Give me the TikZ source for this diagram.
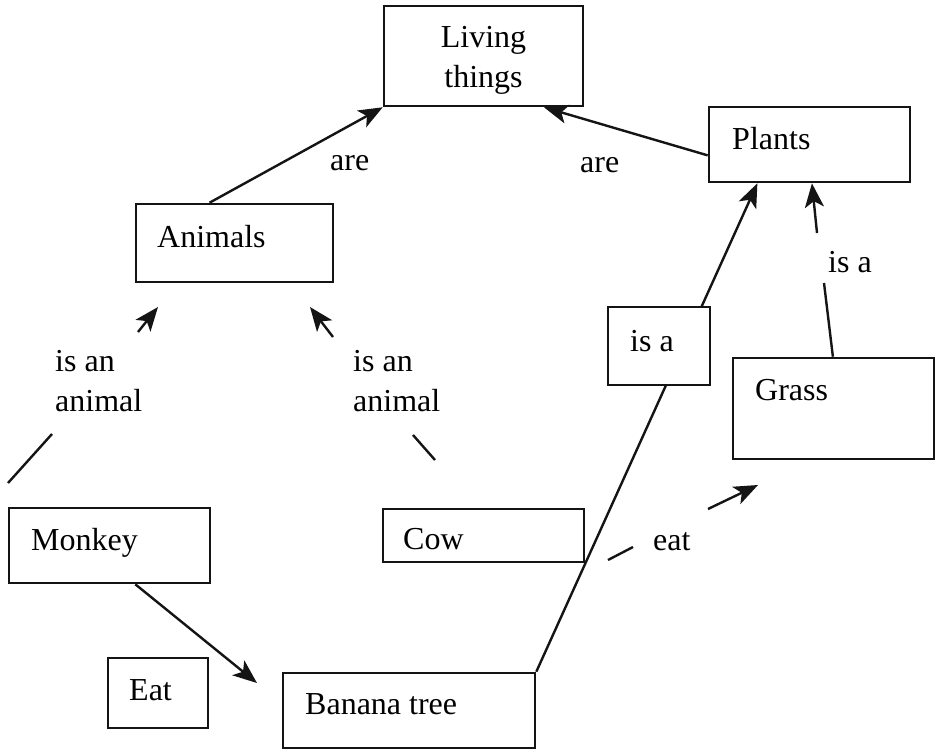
\documentclass[tikz,border=0pt]{standalone}
\usepackage{fontspec}
\setmainfont{Liberation Serif}
\usetikzlibrary{arrows.meta,calc}
\begin{document}
\begin{tikzpicture}[x=1pt,y=-1pt,
  box/.style={draw=black!92, line width=2.6pt, fill=white, inner sep=0pt},
  txt/.style={anchor=base west, inner sep=0pt, text=black, font=\fontsize{32}{35}\selectfont},
  lbl/.style={inner sep=0pt, text=black, font=\fontsize{32}{40}\selectfont, align=left},
  conn/.style={line width=2.4pt, draw=black!92},
  arr/.style={conn, -{Stealth[length=24pt,width=19pt,inset=6pt]}}]
\useasboundingbox (0,0) rectangle (936,753);
\fill[white] (0,0) rectangle (936,753);

% boxes
\node[box, minimum width=199pt, minimum height=100pt] (living) at (483.5,56) {};
\node[box, minimum width=201pt, minimum height=75pt] (plants) at (809.5,144.5) {};
\node[box, minimum width=197pt, minimum height=78pt] (animals) at (234.5,243) {};
\node[box, minimum width=201pt, minimum height=101pt] (grass) at (833.5,408.5) {};
\node[box, minimum width=201pt, minimum height=75pt] (monkey) at (109.5,545.5) {};
\node[box, minimum width=201pt, minimum height=53pt] (cow) at (483.5,535.5) {};
\node[box, minimum width=100pt, minimum height=70pt] (eatbox) at (158,693) {};
\node[box, minimum width=252pt, minimum height=75pt] (banana) at (409,710.5) {};

% line banana tree -> plants (passes behind the "is a" box)
\draw[arr] (banana.north east) -- ($(plants.south west)!0.244!(plants.south east)$);

\node[box, minimum width=102pt, minimum height=78pt] (isa) at (659,346) {};

% box texts
\node[lbl, align=center] (livingT) at (483.5,60) {Living\\things};
\node[txt] (plantsT) at (732,149) {Plants};
\node[txt] (animalsT) at (157,247) {Animals};
\node[txt] (isaT) at (630,351) {is a};
\node[txt] (grassT) at (755,400) {Grass};
\node[txt] (monkeyT) at (31,550) {Monkey};
\node[txt] (cowT) at (403,549) {Cow};
\node[txt] (eatT) at (129,700) {Eat};
\node[txt] (bananaT) at (305,714) {Banana tree};

% link labels
\node[txt] (are1) at (330,170) {are};
\node[txt] (are2) at (580,172) {are};
\node[txt] (isa2) at (828,272) {is a};
\node[txt] (eatL) at (653,550) {eat};
\node[lbl, anchor=west] (isan1) at (55,381) {is an\\animal};
\node[lbl, anchor=west] (isan2) at (353,381) {is an\\animal};

% connectors
\draw[arr] ($(animals.north west)!0.375!(animals.north east)$) -- (living.south west);
\draw[arr] ($(plants.north west)!0.64!(plants.south west)$) -- ($(living.south west)!0.8!(living.south east)$);

\coordinate (g1) at (824,283);
\coordinate (g2) at (817,233);
\draw[conn] ($(grass.north west)!0.497!(grass.north east)$) -- (g1);
\draw[arr] (g2) -- ($(plants.south west)!0.512!(plants.south east)$);

\coordinate (ma1) at (8,483);
\coordinate (ma2) at (52,434);
\coordinate (ma3) at (138,332);
\coordinate (ma4) at (158,307);
\draw[conn] (ma1) -- (ma2);
\draw[arr] (ma3) -- (ma4);

\coordinate (ca1) at (435,460);
\coordinate (ca2) at (413,435);
\coordinate (ca3) at (333,337);
\coordinate (ca4) at (310,307);
\draw[conn] (ca1) -- (ca2);
\draw[arr] (ca3) -- (ca4);

\coordinate (ea1) at (608,560);
\coordinate (ea2) at (633,547);
\coordinate (ea3) at (708,509);
\coordinate (ea4) at (758,485);
\draw[conn] (ea1) -- (ea2);
\draw[arr] (ea3) -- (ea4);

\coordinate (mb) at (257,683);
\draw[arr] ($(monkey.south west)!0.627!(monkey.south east)$) -- (mb);
\end{tikzpicture}
\end{document}
